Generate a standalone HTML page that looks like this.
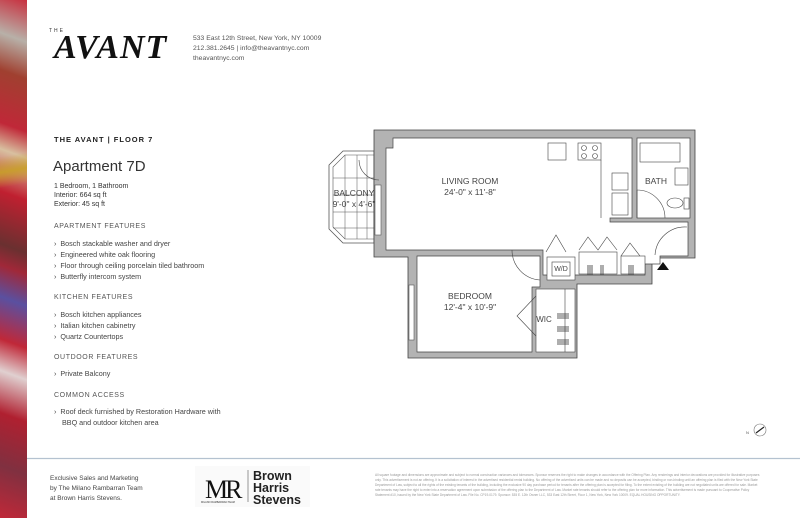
<!DOCTYPE html>
<html><head><meta charset="utf-8"><style>
*{margin:0;padding:0;box-sizing:border-box}
body{width:800px;height:518px;position:relative;background:#fff;font-family:"Liberation Sans",sans-serif;color:#333;overflow:hidden}
.a{position:absolute;white-space:nowrap}
.strip{position:absolute;left:0;top:0;width:27px;height:518px;background:
linear-gradient(170deg,transparent 0,transparent 30%,rgba(200,160,40,.9) 33%,transparent 36%),
linear-gradient(200deg,#c8303f 0,#b8b0a8 8%,#a04030 15%,#c02838 25%,#d8c0a0 30%,#c02030 38%,#6a3030 48%,#a02838 52%,#5a50a0 58%,#c02838 66%,#e0d0d0 72%,#b02030 80%,#803040 90%,#c02838 100%);}
.sec{font-size:7px;letter-spacing:.6px;color:#555}
.li{font-size:7.2px;color:#444}
</style></head><body>
<div class="strip"></div>
<div class="a" style="left:49px;top:28px;font-size:5px;letter-spacing:2px;color:#333">THE</div>
<div class="a" style="left:54px;top:29px;font-size:34px;font-weight:bold;font-style:italic;font-family:'Liberation Serif',serif;letter-spacing:1px;color:#111">AVANT</div>
<div class="a" style="left:193px;top:34px;font-size:6.8px;line-height:10px;color:#555">533 East 12th Street, New York, NY 10009<br>212.381.2645 | info@theavantnyc.com<br>theavantnyc.com</div>

<div class="a" style="left:54px;top:135px;font-size:7.5px;font-weight:bold;letter-spacing:1px;color:#222">THE AVANT | FLOOR 7</div>
<div class="a" style="left:53px;top:158px;font-size:15px;color:#333">Apartment 7D</div>
<div class="a" style="left:54px;top:182px;font-size:7px;line-height:9px;color:#333">1 Bedroom, 1 Bathroom<br>Interior: 664 sq ft<br>Exterior: 45 sq ft</div>

<div class="a sec" style="left:54px;top:223px">APARTMENT FEATURES</div>
<div class="a li" style="left:54px;top:238px;line-height:11px">›&nbsp; Bosch stackable washer and dryer<br>›&nbsp; Engineered white oak flooring<br>›&nbsp; Floor through ceiling porcelain tiled bathroom<br>›&nbsp; Butterfly intercom system</div>
<div class="a sec" style="left:54px;top:294px">KITCHEN FEATURES</div>
<div class="a li" style="left:54px;top:309px;line-height:11px">›&nbsp; Bosch kitchen appliances<br>›&nbsp; Italian kitchen cabinetry<br>›&nbsp; Quartz Countertops</div>
<div class="a sec" style="left:54px;top:354px">OUTDOOR FEATURES</div>
<div class="a li" style="left:54px;top:369px">›&nbsp; Private Balcony</div>
<div class="a sec" style="left:54px;top:392px">COMMON ACCESS</div>
<div class="a li" style="left:54px;top:406px;line-height:11px">›&nbsp; Roof deck furnished by Restoration Hardware with<br>&nbsp;&nbsp;&nbsp; BBQ and outdoor kitchen area</div>

<svg class="a" style="left:0;top:0" width="800" height="518" font-family="Liberation Sans, sans-serif">
<!-- balcony -->
<polygon points="343,151 374,151 374,243 343,243 329,229 329,165" fill="#fff" stroke="#555" stroke-width="0.8"/>
<polygon points="345,155 374,155 374,239 345,239 333,227 333,167" fill="none" stroke="#555" stroke-width="0.6"/>
<g stroke="#555" stroke-width="0.5">
<line x1="333" y1="178" x2="374" y2="178"/><line x1="333" y1="195" x2="374" y2="195"/><line x1="333" y1="212" x2="374" y2="212"/><line x1="333" y1="228" x2="374" y2="228"/>
<line x1="345" y1="155" x2="345" y2="239"/><line x1="357" y1="155" x2="357" y2="239"/><line x1="367" y1="155" x2="367" y2="239"/>
</g>
<!-- walls -->
<polygon points="374,130 695,130 695,258 652,258 652,284 577,284 577,358 408,358 408,257 374,257" fill="#b3b3b3" stroke="#444" stroke-width="0.8"/>
<polygon points="386,148 393,148 393,138 632,138 632,218 610,218 610,222 688,222 688,256 660,256 660,264 645,264 645,275 543,275 543,250 386,250" fill="#fff" stroke="#444" stroke-width="0.7"/>
<rect x="637" y="138" width="53" height="80" fill="#fff" stroke="#444" stroke-width="0.7"/>
<rect x="547" y="257" width="28" height="23" fill="#fff" stroke="#444" stroke-width="0.6"/>
<rect x="579" y="252" width="38" height="22" fill="#fff" stroke="#444" stroke-width="0.6"/>
<rect x="621" y="256" width="24" height="18" fill="#fff" stroke="#444" stroke-width="0.6"/>
<polygon points="417,256 540,256 540,287 532,287 532,352 417,352" fill="#fff" stroke="#444" stroke-width="0.7"/>
<rect x="536" y="289" width="39" height="63" fill="#fff" stroke="#444" stroke-width="0.6"/>
<line x1="565" y1="289" x2="565" y2="352" stroke="#444" stroke-width="0.6"/>
<!-- windows -->
<rect x="375" y="185" width="6" height="50" fill="#fff" stroke="#555" stroke-width="0.6"/>
<rect x="409" y="285" width="5" height="55" fill="#fff" stroke="#555" stroke-width="0.6"/>
<!-- kitchen -->
<g fill="#fff" stroke="#444" stroke-width="0.6">
<rect x="548" y="143" width="18" height="17"/><rect x="578" y="143" width="23" height="17"/>
<circle cx="584" cy="148" r="2.5"/><circle cx="595" cy="148" r="2.5"/><circle cx="584" cy="156" r="2.5"/><circle cx="595" cy="156" r="2.5"/>
<rect x="612" y="173" width="16" height="17"/><rect x="612" y="193" width="16" height="22"/>
<rect x="640" y="143" width="40" height="19"/><rect x="675" y="168" width="13" height="17"/>
<ellipse cx="675" cy="203" rx="8" ry="5"/><rect x="684" y="198" width="5" height="11"/>
<rect x="552" y="262" width="18" height="14"/>
</g>
<line x1="601" y1="160" x2="601" y2="218" stroke="#444" stroke-width="0.6"/>
<!-- doors -->
<g fill="none" stroke="#444" stroke-width="0.6">
<path d="M637,190 A28,28 0 0 1 665,218"/><line x1="637" y1="190" x2="637" y2="218"/>
<path d="M655,255 A30,30 0 0 1 687,227"/>
<path d="M512,250 A30,30 0 0 0 540,280"/>
<path d="M359,160 A20,20 0 0 0 379,180"/>
<path d="M546,252 L556,235 L566,252"/><path d="M579,250 L588,237 L598,250 L607,237 L617,250"/><path d="M621,256 L630,243 L640,256"/>
<path d="M536,296 L517,316 L536,336"/>
</g>
<g stroke="#333" stroke-width="0.8">
<line x1="588" y1="265" x2="588" y2="275"/><line x1="590" y1="265" x2="590" y2="275"/><line x1="592" y1="265" x2="592" y2="275"/><line x1="601" y1="265" x2="601" y2="275"/><line x1="603" y1="265" x2="603" y2="275"/>
<line x1="629" y1="265" x2="629" y2="275"/><line x1="631" y1="265" x2="631" y2="275"/><line x1="633" y1="265" x2="633" y2="275"/>
<line x1="557" y1="314" x2="569" y2="314"/><line x1="557" y1="316" x2="569" y2="316"/><line x1="557" y1="318" x2="569" y2="318"/>
<line x1="557" y1="327" x2="569" y2="327"/><line x1="557" y1="329" x2="569" y2="329"/><line x1="557" y1="331" x2="569" y2="331"/>
<line x1="557" y1="340" x2="569" y2="340"/><line x1="557" y1="342" x2="569" y2="342"/><line x1="557" y1="344" x2="569" y2="344"/>
</g>
<polygon points="657,270 669,270 663,262" fill="#111"/>
<g fill="#444" font-size="8.5" text-anchor="middle">
<text x="470" y="184">LIVING ROOM</text><text x="470" y="195">24'-0" x 11'-8"</text>
<text x="656" y="184">BATH</text>
<text x="354" y="196">BALCONY</text><text x="354" y="207">9'-0" x 4'-6"</text>
<text x="470" y="299">BEDROOM</text><text x="470" y="310">12'-4" x 10'-9"</text>
<text x="544" y="322" font-size="8">WIC</text>
<text x="561" y="271" font-size="7">W/D</text>
</g>
<!-- compass -->
<circle cx="760" cy="430" r="6" fill="none" stroke="#777" stroke-width="0.6"/>
<line x1="756" y1="433" x2="764" y2="427" stroke="#222" stroke-width="1.2"/>
<text x="746" y="434" font-size="4" fill="#555">N</text>
<!-- footer -->
<line x1="27" y1="458.5" x2="800" y2="458.5" stroke="#b4c2d0" stroke-width="1.2"/>
<rect x="195" y="466" width="115" height="41" fill="#fafafa"/>
<text x="205" y="498" font-size="26" font-family="Liberation Serif, serif" fill="#111" letter-spacing="-3">MR</text>
<text x="201" y="503" font-size="2.5" fill="#333">MILANO RAMBARRAN TEAM</text>
<line x1="248" y1="470" x2="248" y2="502" stroke="#333" stroke-width="0.5"/>
<g font-size="12.5" font-weight="bold" fill="#222"><text x="253" y="480">Brown</text><text x="253" y="492">Harris</text><text x="253" y="504">Stevens</text></g>
</svg>
<div class="a" style="left:50px;top:474px;font-size:6.5px;line-height:10px;color:#444">Exclusive Sales and Marketing<br>by The Milano Rambarran Team<br>at Brown Harris Stevens.</div>
<div class="a" style="left:375px;top:473px;width:385px;white-space:normal;font-size:3.2px;line-height:5px;color:#999">All square footage and dimensions are approximate and subject to normal construction variances and tolerances. Sponsor reserves the right to make changes in accordance with the Offering Plan. Any renderings and interior decorations are provided for illustrative purposes only. This advertisement is not an offering. It is a solicitation of interest in the advertised residential rental building. No offering of the advertised units can be made and no deposits can be accepted, binding or non-binding until an offering plan is filed with the New York State Department of Law, subject to all the rights of the existing tenants of the building, including the exclusive 90 day purchase period for tenants after the offering plan is accepted for filing. To the extent existing of the building are not negotiated units are offered for sale. Market rate tenants may have the right to enter into a reservation agreement upon submission of the offering plan to the Department of Law. Market rate tenants should refer to the offering plan for more information. This advertisement is made pursuant to Cooperative Policy Statement #10, issued by the New York State Department of Law. File No. CP19-0179. Sponsor: 535 E. 12th Owner LLC, 533 East 12th Street, Floor 1, New York, New York 10009. EQUAL HOUSING OPPORTUNITY.</div>
</body></html>
